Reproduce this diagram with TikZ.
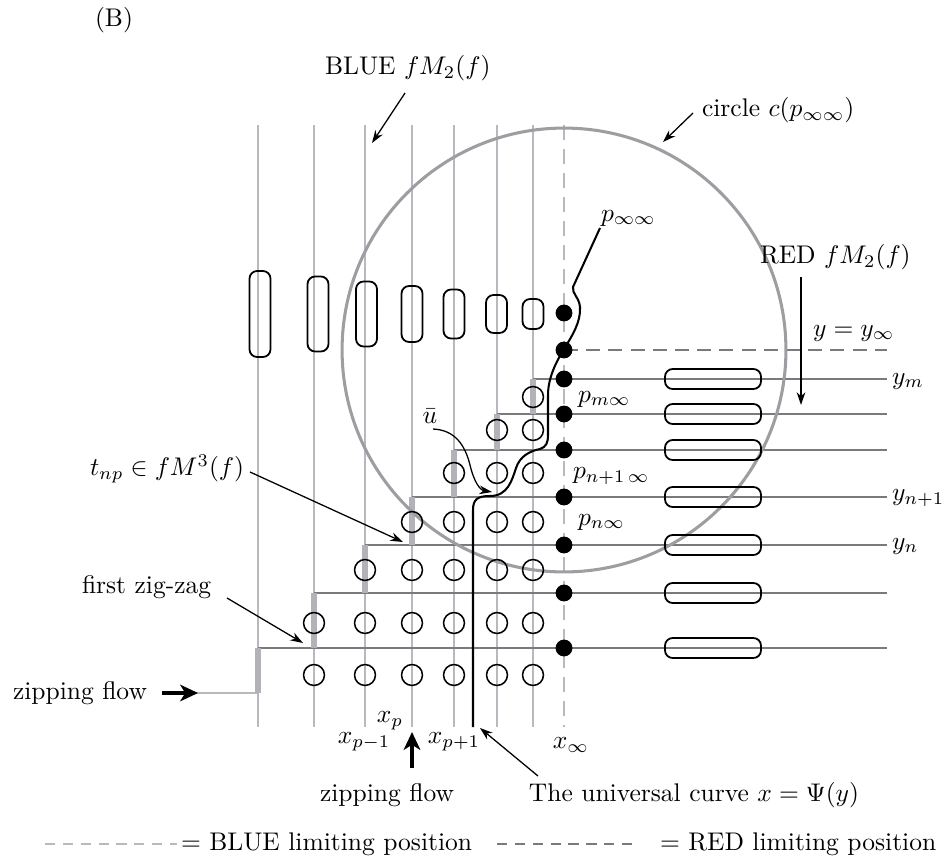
\documentclass[tikz,border=0pt]{standalone}
\usetikzlibrary{arrows.meta}
\definecolor{bluegray}{RGB}{184,184,190}
\definecolor{redgray}{RGB}{122,122,126}
\definecolor{circgray}{RGB}{158,158,162}
\definecolor{ziggray}{RGB}{178,178,184}
\begin{document}
\begin{tikzpicture}[x=0.392pt,y=-0.392pt,
  bluel/.style={draw=bluegray,line width=0.8pt},
  redl/.style={draw=redgray,line width=0.8pt},
  zigseg/.style={draw=ziggray,line width=2pt},
  ring/.style={draw=black,line width=0.6pt},
  capsule/.style={draw=black,line width=0.7pt,rounded corners=3pt},
  arr/.style={-{Stealth[length=5pt,width=3.4pt]},line width=0.5pt},
  bigarr/.style={-{Stealth[length=7pt,width=6.5pt,inset=2pt]},line width=1.3pt},
  lbl/.style={inner sep=0pt,outer sep=0pt}]
\useasboundingbox (0,0) rectangle (945,865);

% BLUE vertical lines
\foreach \x in {258,314,365,412,454,497,533} \draw[bluel] (\x,125) -- (\x,727);
\draw[bluel,dash pattern=on 6pt off 3.4pt] (564,125) -- (564,727);

% RED horizontal lines
\foreach \y/\x in {379/533,414/497,450/454,497/412,545/365,593/314,648/258}
  \draw[redl] (\x,\y) -- (887,\y);
\draw[redl,dash pattern=on 5.5pt off 3.2pt] (564,350) -- (887,350);

% zig-zag
\draw[bluel] (196,693) -- (258,693);
\foreach \x/\ya/\yb in {258/648/693,314/593/648,365/545/593,412/497/545,454/450/497,497/414/450,533/379/414}
  \draw[zigseg] (\x,\ya) -- (\x,\yb);

% big circle
\draw[draw=circgray,line width=1.2pt] (564,350) circle[radius=87pt];

% vertical capsules
\foreach \x/\h in {260/86,318/75,366.5/65,412/56,454/49,496.5/38,533/30}
  \draw[capsule] ({\x-10.5},{314-\h/2}) rectangle ({\x+10.5},{314+\h/2});

% horizontal capsules
\foreach \y in {379,414,450,497,545,593,648}
  \draw[capsule] (665,{\y-10}) rectangle (761,{\y+10});

% open circles
\foreach \y/\xs in {675/{314,365,412,454,497,533},623/{314,365,412,454,497,533},570/{365,412,454,497,533},522/{412,454,497,533},473/{454,497,533},430/{497,533},397/{533}}
  \foreach \x in \xs \draw[ring] (\x,\y) circle[radius=4.1pt];

% filled dots
\foreach \y in {313,350,379,414,450,497,545,593,648}
  \fill (564,\y) circle[radius=3.3pt];

% universal curve
\draw[line width=0.8pt] (473,727) -- (473,510) .. controls (473,499) and (478,496) .. (490,496)
  .. controls (508,496) and (512,480) .. (516,468) .. controls (520,456) and (530,451) .. (540,449)
  .. controls (546,447) and (548,443) .. (548,435) -- (548,395)
  .. controls (548,378) and (556,362) .. (564,349) .. controls (572,336) and (581,322) .. (580,307)
  .. controls (579,297) and (572,294) .. (573,287) -- (600,228);

% labels
\node[lbl] (B) at (114,20) {(B)};
\node[lbl,anchor=west] (blue) at (325,68) {BLUE $fM_2(f)$};
\coordinate (blueA) at (405,93); \coordinate (blueT) at (372,143);
\draw[arr] (blueA) -- (blueT);

\node[lbl,anchor=west] (circ) at (702,110) {circle $c(p_{\infty\infty})$};
\coordinate (circA) at (693,113); \coordinate (circT) at (663,142);
\draw[arr] (circA) -- (circT);

\node[lbl,anchor=west] (red) at (760,257) {RED $fM_2(f)$};
\coordinate (redA) at (801,277); \coordinate (redT) at (801,405);
\draw[arr] (redA) -- (redT);

\node[lbl,anchor=west] (yinf) at (813,333) {$y=y_\infty$};
\node[lbl,anchor=west] (pinf) at (601,218) {$p_{\infty\infty}$};
\node[lbl,anchor=west] (ym) at (892,381) {$y_m$};
\node[lbl,anchor=west] (yn1) at (892,498) {$y_{n+1}$};
\node[lbl,anchor=west] (yn) at (892,546) {$y_n$};
\node[lbl,anchor=west] (pm) at (578,399) {$p_{m\infty}$};
\node[lbl,anchor=west] (pn1) at (573,476) {$p_{n+1\,\infty}$};
\node[lbl,anchor=west] (pn) at (578,522) {$p_{n\infty}$};

\node[lbl] (ubar) at (430,416) {$\bar u$};
\coordinate (uA) at (433,429); \coordinate (uT) at (492,492);
\draw[arr] (uA) .. controls (455,430) and (465,445) .. (470,465) .. controls (474,482) and (480,490) .. (uT);

\node[lbl,anchor=west] (tnp) at (90,469) {$t_{np}\in fM^3(f)$};
\coordinate (tA) at (250,472); \coordinate (tT) at (403,542);
\draw[arr] (tA) -- (tT);

\node[lbl,anchor=west] (fzz) at (82,587) {first zig-zag};
\coordinate (fA) at (227,598); \coordinate (fT) at (303,643);
\draw[arr] (fA) -- (fT);

\node[lbl,anchor=west] (zf1) at (13,693) {zipping flow};
\coordinate (zA) at (162,693); \coordinate (zT) at (198,693);
\draw[bigarr] (zA) -- (zT);

\node[lbl] (xp) at (390,721) {$x_p$};
\node[lbl] (xpm) at (364,742) {$x_{p-1}$};
\node[lbl] (xpp) at (454,742) {$x_{p+1}$};
\node[lbl] (xinf) at (571,745) {$x_\infty$};
\coordinate (zbA) at (412,768); \coordinate (zbT) at (412,732);
\draw[bigarr] (zbA) -- (zbT);

\node[lbl] (zf2) at (387,795) {zipping flow};
\node[lbl] (uc) at (694,795) {The universal curve $x=\Psi(y)$};
\coordinate (ucA) at (538,776); \coordinate (ucT) at (480,728);
\draw[arr] (ucA) -- (ucT);

% legend
\draw[draw=bluegray,line width=0.9pt,dash pattern=on 4pt off 3pt] (45,844) -- (177,844);
\node[lbl,anchor=west] (lb) at (181,844) {= BLUE limiting position};
\draw[draw=redgray,line width=0.9pt,dash pattern=on 4pt off 3pt] (497,844) -- (633,844);
\node[lbl,anchor=west] (lr) at (660,844) {= RED limiting position};
\end{tikzpicture}
\end{document}
